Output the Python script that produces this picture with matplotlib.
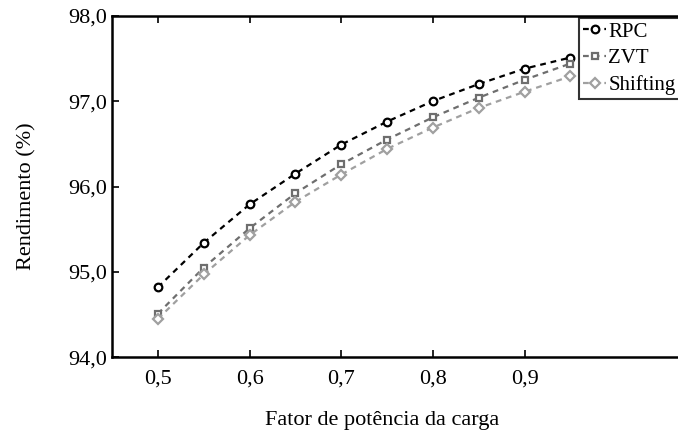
import matplotlib
matplotlib.use("Agg")
import matplotlib.pyplot as plt
from matplotlib.ticker import FuncFormatter

fp = [0.5, 0.55, 0.6, 0.65, 0.7, 0.75, 0.8, 0.85, 0.9, 0.95]
rpc = [94.82, 95.34, 95.79, 96.15, 96.49, 96.76, 97.00, 97.20, 97.38, 97.51]
zvt = [94.51, 95.05, 95.51, 95.92, 96.26, 96.55, 96.81, 97.04, 97.25, 97.44]
shifting = [94.45, 94.97, 95.43, 95.82, 96.14, 96.44, 96.69, 96.92, 97.11, 97.29]

xticks = [0.5, 0.6, 0.7, 0.8, 0.9]
yticks = [94.0, 95.0, 96.0, 97.0, 98.0]

plt.rcParams['font.family'] = ['Liberation Serif', 'DejaVu Serif']

fig = plt.figure(figsize=(6.78, 4.32), dpi=100)
# eixo vai além da borda direita (figura original recortada)
ax = fig.add_axes([112/678, 1 - 357.3/432, 596/678, (357.3 - 15.7)/432])

ax.plot(fp, rpc, '--o', color='black', mfc='white', mec='black', ms=5.5, mew=1.6,
        lw=1.6, dashes=(2.6, 2.2), label='RPC')
ax.plot(fp, zvt, '--s', color='#6e6e6e', mfc='white', mec='#6e6e6e', ms=5, mew=1.6,
        lw=1.6, dashes=(2.6, 2.2), label='ZVT')
ax.plot(fp, shifting, '--D', color='#a0a0a0', mfc='white', mec='#a0a0a0', ms=4.6, mew=1.6,
        lw=1.6, dashes=(2.6, 2.2), label='Shifting')

ax.set_xlim(0.45, 1.1)
ax.set_ylim(94, 98)
ax.set_xticks(xticks)
ax.set_yticks(yticks)
ax.xaxis.set_major_formatter(FuncFormatter(lambda v, p: f'{v:.1f}'.replace('.', ',')))
ax.yaxis.set_major_formatter(FuncFormatter(lambda v, p: f'{v:.1f}'.replace('.', ',')))
ax.tick_params(direction='in', top=True, right=True, length=5, width=1.2,
               labelsize=16)
ax.tick_params(axis='x', pad=9)
ax.tick_params(axis='y', pad=3.5)
for s in ax.spines.values():
    s.set_linewidth(1.8)

ax.set_xlabel('Fator de potência da carga', fontsize=16, labelpad=16, x=0.453)
ax.set_ylabel('Rendimento (%)', fontsize=16, labelpad=23, y=0.472)

leg = ax.legend(loc='upper left', bbox_to_anchor=(579/678, 1 - 18/432),
                bbox_transform=fig.transFigure, fontsize=15, frameon=True,
                fancybox=False, edgecolor='black', handlelength=1.1,
                handletextpad=0.1, borderpad=0.2, labelspacing=0.33,
                borderaxespad=0)
leg.get_frame().set_linewidth(1.5)

fig.savefig('out.png', dpi=100)
